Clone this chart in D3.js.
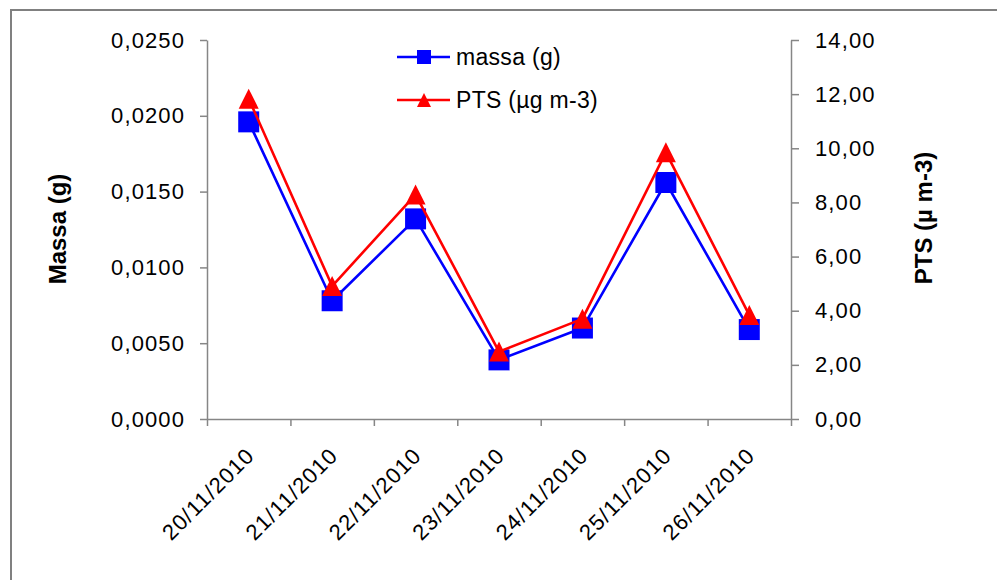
<!DOCTYPE html>
<html>
<head>
<meta charset="utf-8">
<script src="https://cdn.jsdelivr.net/npm/d3@7/dist/d3.min.js"></script>
<style>
  html, body { margin: 0; padding: 0; background: #ffffff; }
  svg { display: block; }
  text { font-family: "Liberation Sans", Arial, sans-serif; fill: #000; }
</style>
</head>
<body>
<svg id="chart" width="997" height="580"></svg>
<script>
// Sampling dates (categories)
const dates = ["20/11/2010", "21/11/2010", "22/11/2010", "23/11/2010", "24/11/2010", "25/11/2010", "26/11/2010"];
// Collected mass on the filter, in grams (left axis)
const massa = [0.0196, 0.0078, 0.0132, 0.0039, 0.0060, 0.0156, 0.0059];
// Total suspended particles, µg m-3 (right axis)
const pts = [11.83, 4.91, 8.29, 2.49, 3.70, 9.85, 3.84];
// Axis ticks
const massaTicks = [0, 0.005, 0.010, 0.015, 0.020, 0.025];
const ptsTicks = [0, 2, 4, 6, 8, 10, 12, 14];
// Texts
const seriesNames = ["massa (g)", "PTS (µg m-3)"];
const leftTitle = "Massa (g)";
const rightTitle = "PTS (µ m-3)";

const svg = d3.select("#chart");
const W = 997, H = 580;
const plot = { left: 207, right: 791, top: 40, bottom: 419 };
const axisColor = "#868686";
const blue = "#0000ff", red = "#ff0000";

// Portuguese number style: decimal comma
const pt = d3.formatLocale({ decimal: ",", thousands: ".", grouping: [3], currency: ["R$", ""] });
const fmtL = pt.format(".4f");
const fmtR = pt.format(".2f");

svg.append("rect").attr("width", W).attr("height", H).attr("fill", "#fff");
// chart-area frame (left and top edges visible)
svg.append("path")
  .attr("d", `M11,${H + 2} L11,10 L${W + 2},10`)
  .attr("fill", "none").attr("stroke", "#808080").attr("stroke-width", 2);

const x = d3.scaleBand().domain(dates).range([plot.left, plot.right]).padding(0);
const xEdge = d3.scaleLinear().domain([0, dates.length]).range([plot.left, plot.right]);
const yL = d3.scaleLinear().domain([0, 0.025]).range([plot.bottom, plot.top]);
const yR = d3.scaleLinear().domain([0, 14]).range([plot.bottom, plot.top]);
const cx = d => x(d) + x.bandwidth() / 2;

function styleAxis(g) {
  g.select(".domain").attr("stroke", axisColor).attr("stroke-width", 1.5);
  g.selectAll(".tick line").attr("stroke", axisColor).attr("stroke-width", 1.5);
  g.selectAll("text")
    .style("font-size", "22px")
    .style("letter-spacing", "1.1px")
    .attr("fill", "#000");
}

// Left axis
svg.append("g")
  .attr("transform", `translate(${plot.left},0)`)
  .call(d3.axisLeft(yL).tickValues(massaTicks).tickFormat(fmtL).tickSize(7).tickSizeOuter(0).tickPadding(15))
  .call(styleAxis);

// Right axis
svg.append("g")
  .attr("transform", `translate(${plot.right},0)`)
  .call(d3.axisRight(yR).tickValues(ptsTicks).tickFormat(fmtR).tickSize(8).tickSizeOuter(0).tickPadding(16))
  .call(styleAxis);

// Bottom axis: tick marks on category boundaries
svg.append("g")
  .attr("transform", `translate(0,${plot.bottom})`)
  .call(d3.axisBottom(xEdge).tickValues(d3.range(dates.length + 1)).tickFormat("").tickSize(7).tickSizeOuter(0))
  .call(styleAxis);

// Rotated category labels
svg.append("g")
  .selectAll("text")
  .data(dates)
  .join("text")
  .attr("transform", d => `translate(${cx(d) + 7},457) rotate(-45)`)
  .attr("text-anchor", "end")
  .style("font-size", "22px")
  .style("letter-spacing", "1.1px")
  .text(d => d);

// Axis titles
svg.append("text")
  .attr("transform", `translate(65.5,229) rotate(-90)`)
  .attr("text-anchor", "middle")
  .style("font-size", "24px").style("font-weight", "bold")
  .text(leftTitle);
svg.append("text")
  .attr("transform", `translate(932,218) rotate(-90)`)
  .attr("text-anchor", "middle")
  .style("font-size", "24px").style("font-weight", "bold")
  .text(rightTitle);

// Marker shapes
const squarePath = s => `M${-s / 2},${-s / 2}h${s}v${s}h${-s}Z`;
const trianglePath = s => `M0,${-s / 2}L${s / 2},${s / 2}L${-s / 2},${s / 2}Z`;

// Series 1: mass
const line = d3.line().x(d => d[0]).y(d => d[1]);
const massPts = dates.map((d, i) => [cx(d), yL(massa[i])]);
const ptsPts = dates.map((d, i) => [cx(d), yR(pts[i])]);

svg.append("path").attr("d", line(massPts)).attr("fill", "none")
  .attr("stroke", blue).attr("stroke-width", 2.6).attr("stroke-linejoin", "round");
svg.append("g").selectAll("path").data(massPts).join("path")
  .attr("transform", p => `translate(${p[0]},${p[1]})`)
  .attr("d", squarePath(21)).attr("fill", blue);

// Series 2: PTS
svg.append("path").attr("d", line(ptsPts)).attr("fill", "none")
  .attr("stroke", red).attr("stroke-width", 2.6).attr("stroke-linejoin", "round");
svg.append("g").selectAll("path").data(ptsPts).join("path")
  .attr("transform", p => `translate(${p[0]},${p[1]})`)
  .attr("d", trianglePath(20)).attr("fill", red);

// Legend
const legend = svg.append("g");
const legendItems = [
  { name: seriesNames[0], color: blue, shape: squarePath(14), y: 57 },
  { name: seriesNames[1], color: red, shape: trianglePath(14), y: 100 }
];
legendItems.forEach(it => {
  legend.append("line").attr("x1", 397).attr("x2", 450).attr("y1", it.y).attr("y2", it.y)
    .attr("stroke", it.color).attr("stroke-width", 2.6);
  legend.append("path").attr("d", it.shape).attr("fill", it.color)
    .attr("transform", `translate(424,${it.y})`);
  legend.append("text").attr("x", 456).attr("y", it.y).attr("dy", "0.36em")
    .style("font-size", "23px").style("letter-spacing", "0.3px")
    .text(it.name);
});
</script>
</body>
</html>
